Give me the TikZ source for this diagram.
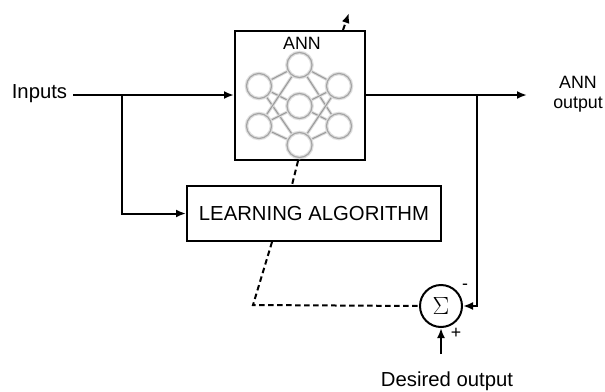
\documentclass[tikz,border=0pt]{standalone}
\usepackage{fontspec}
\setmainfont{Liberation Sans}
\usetikzlibrary{arrows.meta,calc}

\tikzset{
  wire/.style={line width=2pt, line join=miter},
  flow/.style={wire, -{Latex[length=10pt,width=8pt]}},
  hint/.style={line width=2pt, dash pattern=on 5.5pt off 3.5pt},
  block/.style={draw, line width=2pt, fill=white, inner sep=0pt},
  label/.style={inner sep=1pt, font=\fontsize{20.3}{23}\selectfont},
  smalllabel/.style={inner sep=1pt, font=\fontsize{17.8}{20}\selectfont},
  neuron/.style={circle, minimum size=25pt, inner sep=0pt},
}

\begin{document}
\begin{tikzpicture}[x=1pt, y=-1pt]
  \useasboundingbox[fill=white] (0,0) rectangle (605,391);

  % main blocks
  \node[block, minimum width=130pt, minimum height=129pt] (ann) at (300,95.5) {};
  \node[smalllabel] (annlbl) at (302,43) {ANN};
  \node[block, minimum width=254pt, minimum height=55pt, label] (learn) at (314,213.5) {LEARNING ALGORITHM};
  \node[draw, circle, line width=2pt, minimum size=42pt, inner sep=0pt,
        font=\fontsize{25}{27}\selectfont] (sum) at (441,306) {$\Sigma$};

  % network icon inside the ANN block (soft grey strokes)
  \foreach \n/\x/\y in {l1/259/86, l2/259/126, m1/299.5/65, m2/299.5/106, m3/299.5/145, r1/339/86, r2/339/126}
    \node[neuron] (\n) at (\x,\y) {};
  \foreach \a/\b in {l1/m1, l1/m2, l1/m3, l2/m1, l2/m2, l2/m3, m1/r1, m1/r2, m2/r1, m2/r2, m3/r1, m3/r2} {
    \draw[gray!30, line width=3pt] (\a) -- (\b);
    \draw[gray!80, line width=1pt] (\a) -- (\b);
  }
  \foreach \n in {l1,l2,m1,m2,m3,r1,r2} {
    \draw[gray!25, line width=3.6pt] (\n.center) circle (12.5pt);
    \draw[gray!70, line width=1.2pt] (\n.center) circle (12.5pt);
  }

  % text labels
  \node[label] (inp) at (39.5,94) {Inputs};
  \node[smalllabel, align=center] (annout) at (578,94) {ANN\\output};
  \node[label] (desired) at (447,381) {Desired output};
  \node[smalllabel] (minus) at (465,287) {-};
  \node[smalllabel] (plus) at (456,333) {+};

  % junction points of the signal lines
  \coordinate (split) at (122,95);
  \coordinate (tap) at (477,95);
  \coordinate (outend) at (527,95);
  \coordinate (target) at (441,354);
  \coordinate (instart) at (73,95);

  % signal lines
  \draw[flow] (instart) -- (ann.west |- split);
  \draw[flow] (split) |- (learn.west);
  \draw[flow] (ann.east |- tap) -- (outend);
  \draw[flow] (tap) |- (sum.east);
  \draw[flow] (target) -- (sum.south);

  % dashed adaptation paths
  \coordinate (annbot) at ($(ann.south)+(-2,0)$);
  \coordinate (learntop) at ($(learn.north)+(-22,0)$);
  \coordinate (learnbot) at ($(learn.south)+(-42,0)$);
  \coordinate (corner) at (253,305);
  \coordinate (adjfrom) at ($(ann.north)+(43,0)$);
  \coordinate (adjto) at (349,13);
  \draw[hint] (annbot) -- (learntop);
  \draw[hint] (learnbot) -- (corner) -- (sum.west);
  \draw[hint, -{Latex[length=10pt,width=8pt]}] (adjfrom) -- (adjto);
\end{tikzpicture}
\end{document}
